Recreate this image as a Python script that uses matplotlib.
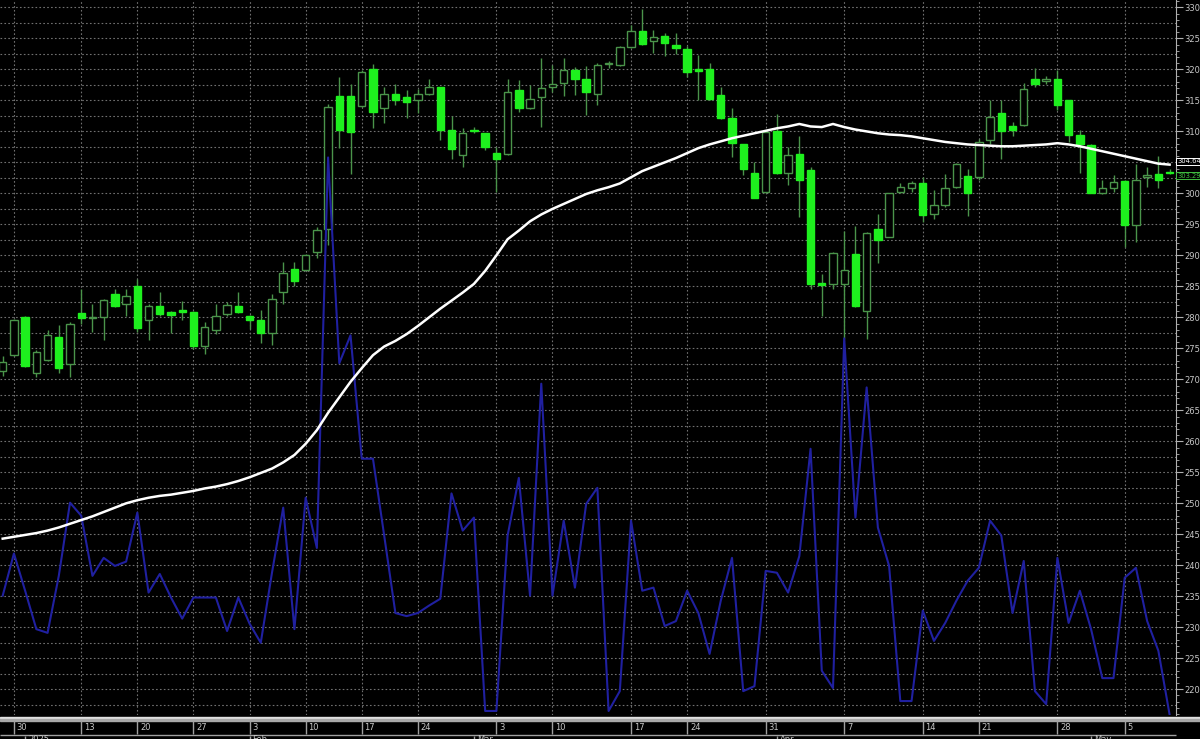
import numpy as np
import matplotlib.pyplot as plt
from matplotlib.ticker import MultipleLocator, FuncFormatter

# daily candles (open, high, low, close)
opens = [271.4, 274.0, 280.0, 271.0, 273.1, 276.8, 272.4, 280.7, 279.9, 280.1,
         283.8, 282.2, 285.1, 279.5, 281.9, 280.9, 281.2, 280.8, 275.3, 278.0,
         280.5, 281.9, 280.3, 279.6, 277.4, 284.1, 287.8, 287.7, 290.5, 294.3,
         315.7, 315.7, 314.1, 320.0, 313.7, 316.0, 315.6, 315.05, 316.0, 317.1,
         310.2, 306.2, 310.2, 309.7, 306.5, 306.4, 316.6, 313.7, 315.5, 317.1,
         317.8, 319.9, 318.4, 316.0, 320.9, 320.7, 323.6, 326.2, 324.6, 325.4,
         324.0, 323.3, 320.0, 320.1, 315.9, 312.1, 307.9, 303.3, 300.2, 310.1,
         303.3, 306.3, 303.7, 285.5, 285.4, 285.4, 290.2, 281.0, 294.2, 293.0,
         300.2, 300.9, 301.6, 296.6, 298.2, 301.0, 302.8, 302.7, 308.6, 313.0,
         310.8, 311.0, 318.5, 318.2, 318.4, 315.0, 309.5, 307.8, 300.0, 300.8,
         302.0, 294.9, 302.7, 303.1, 303.4]
highs = [273.8, 279.8, 280.3, 274.7, 277.9, 278.7, 279.2, 284.6, 282.2, 283.0,
         284.6, 284.6, 286.2, 282.2, 284.1, 281.0, 282.7, 281.0, 279.2, 282.2,
         282.4, 284.1, 280.4, 281.2, 283.8, 288.9, 288.9, 290.2, 294.6, 314.5,
         318.8, 317.7, 319.9, 320.9, 317.2, 317.7, 316.7, 316.8, 318.5, 317.2,
         312.5, 310.5, 310.7, 309.8, 307.5, 318.4, 318.3, 317.5, 321.9, 320.7,
         321.9, 320.4, 320.5, 321.0, 321.4, 323.7, 327.2, 329.7, 326.4, 325.8,
         325.9, 323.7, 322.3, 321.0, 317.1, 313.7, 308.0, 305.1, 310.0, 312.8,
         307.5, 309.2, 304.3, 287.0, 290.5, 294.0, 294.7, 293.8, 296.7, 300.1,
         301.7, 302.0, 302.7, 300.5, 303.2, 304.9, 304.0, 308.8, 315.1, 315.0,
         311.5, 317.8, 320.2, 318.9, 319.9, 315.1, 310.2, 307.9, 302.1, 302.9,
         302.1, 304.8, 304.3, 306.0, 303.9]
lows = [270.6, 273.8, 272.0, 270.3, 273.0, 271.0, 270.4, 278.9, 277.6, 276.4,
        281.6, 280.3, 277.6, 276.4, 280.3, 277.5, 279.5, 274.9, 274.1, 277.3,
        280.3, 280.7, 278.2, 275.8, 275.5, 282.2, 285.1, 287.6, 289.5, 291.6,
        307.4, 303.2, 314.0, 310.5, 311.3, 314.2, 312.2, 313.0, 315.9, 308.6,
        305.6, 304.3, 309.7, 307.0, 300.2, 306.2, 313.2, 313.6, 310.7, 316.4,
        315.7, 315.9, 312.6, 314.2, 320.2, 320.5, 323.5, 324.0, 322.6, 322.2,
        322.5, 318.7, 315.0, 315.0, 312.0, 305.9, 302.9, 299.2, 300.1, 303.2,
        301.3, 296.2, 284.6, 280.3, 284.5, 276.5, 281.7, 276.5, 288.7, 292.9,
        300.0, 300.2, 295.4, 295.9, 297.8, 300.8, 296.3, 302.1, 308.0, 305.6,
        309.2, 310.8, 317.2, 317.7, 313.5, 308.3, 303.3, 300.0, 299.9, 300.2,
        291.3, 292.2, 301.0, 300.8, 303.1]
closes = [272.8, 279.6, 272.2, 274.4, 277.1, 271.9, 278.9, 279.9, 280.1, 282.8,
          281.9, 283.5, 278.3, 281.9, 280.5, 280.4, 280.8, 275.3, 278.4, 280.3,
          282.0, 280.8, 279.6, 277.4, 283.0, 287.1, 285.8, 290.0, 294.1, 314.0,
          310.2, 309.9, 319.6, 313.2, 316.0, 315.1, 314.8, 316.0, 317.1, 310.3,
          307.2, 309.7, 310.0, 307.5, 305.6, 316.4, 313.7, 315.2, 317.0, 317.6,
          319.9, 318.4, 316.4, 320.7, 321.1, 323.6, 326.2, 324.1, 325.3, 324.2,
          323.4, 319.6, 319.8, 315.3, 312.1, 308.2, 304.0, 299.3, 309.9, 303.3,
          306.2, 302.1, 285.4, 285.2, 290.4, 287.7, 281.9, 293.6, 292.5, 300.0,
          301.0, 301.6, 296.5, 298.2, 300.9, 304.8, 300.1, 308.3, 312.4, 310.1,
          310.2, 316.8, 317.6, 318.4, 314.3, 309.4, 307.9, 300.1, 300.8, 301.8,
          294.9, 302.1, 302.9, 302.2, 303.29]

# white moving average line
ma_line = [244.3, 244.6, 244.9, 245.2, 245.6, 246.1, 246.7, 247.3, 247.9, 248.6,
           249.3, 250.0, 250.5, 250.9, 251.2, 251.4, 251.7, 252.0, 252.4, 252.7,
           253.1, 253.6, 254.2, 254.9, 255.6, 256.6, 257.8, 259.6, 261.8, 264.6,
           267.1, 269.6, 271.8, 273.9, 275.3, 276.2, 277.3, 278.6, 280.0, 281.4,
           282.7, 284.0, 285.4, 287.5, 290.0, 292.6, 294.0, 295.5, 296.6, 297.5,
           298.3, 299.1, 299.9, 300.5, 301.0, 301.6, 302.6, 303.6, 304.3, 305.0,
           305.7, 306.5, 307.3, 307.9, 308.4, 308.9, 309.3, 309.7, 310.1, 310.5,
           310.8, 311.2, 310.8, 310.7, 311.2, 310.7, 310.3, 310.0, 309.7, 309.5,
           309.4, 309.2, 308.9, 308.6, 308.3, 308.1, 307.9, 307.8, 307.7, 307.6,
           307.6, 307.7, 307.8, 307.9, 308.1, 307.9, 307.6, 307.2, 306.8, 306.4,
           306.0, 305.6, 305.2, 304.8, 304.64]

# blue indicator line (drawn on the price scale)
blue_line = [235.1, 241.9, 235.9, 229.7, 229.1, 238.3, 250.1, 248.0, 238.3, 241.2,
             239.9, 240.6, 248.5, 235.6, 238.6, 234.8, 231.4, 234.8, 234.8, 234.8,
             229.4, 234.8, 230.6, 227.5, 238.8, 249.3, 229.7, 250.9, 242.8, 305.8,
             272.6, 277.1, 257.2, 257.2, 244.8, 232.3, 231.8, 232.3, 233.5, 234.6,
             251.6, 245.6, 247.7, 216.5, 216.5, 244.8, 254.1, 235.1, 269.3, 235.1,
             247.2, 236.4, 249.9, 252.5, 216.5, 219.7, 247.2, 235.9, 236.4, 230.2,
             231.0, 235.9, 232.3, 225.7, 234.3, 241.2, 219.7, 220.5, 239.1, 238.8,
             235.6, 241.5, 258.8, 223.0, 220.2, 276.6, 247.7, 268.7, 246.1, 239.9,
             218.1, 218.1, 232.7, 227.8, 230.7, 234.3, 237.5, 239.6, 247.2, 244.8,
             232.3, 240.7, 219.7, 217.6, 241.2, 230.7, 235.9, 229.7, 221.8, 221.8,
             238.0, 239.6, 231.0, 226.2, 215.9]

week_ticks = [1, 7, 12, 17, 22, 27, 32, 37, 44, 49, 56, 61, 68, 75, 82, 87, 94, 100]
week_labels = ['30', '13', '20', '27', '3', '10', '17', '24', '3', '10',
               '17', '24', '31', '7', '14', '21', '28', '5']
month_ticks = [2, 22, 42, 69, 97]
month_labels = ['2025', 'Feb', 'Mar', 'Apr', 'May']

txt = '#c8c8c8'
grid_c = '#707070'
wick_c = '#4a944a'
fill_c = '#1ef01e'

fig = plt.figure(figsize=(12, 7.39), dpi=100, facecolor='black')
ax = fig.add_axes([0, 24 / 739, 1176 / 1200, 715 / 739])
ax.set_facecolor('black')

x = np.arange(len(closes))
o = np.array(opens)
c = np.array(closes)
up = c >= o

xmin, xmax = -0.24, 104.57
ax.set_xlim(xmin, xmax)
ax.set_ylim(215.85, 331.2)

# grid
for v in np.arange(217.5, 331, 2.5):
    ax.axhline(v, color=grid_c, lw=0.8, ls=(0, (1.5, 2)), zorder=0)
for t in week_ticks:
    ax.axvline(t, color=grid_c, lw=0.8, ls=(0, (1.5, 2)), zorder=0)

# candles
ax.vlines(x, lows, highs, color=wick_c, lw=1, zorder=2)
bottoms = np.minimum(o, c)
heights = np.abs(c - o)
ax.bar(x[up], heights[up], bottom=bottoms[up], width=0.66,
       facecolor='black', edgecolor=wick_c, lw=1, zorder=3)
ax.bar(x[~up], heights[~up], bottom=bottoms[~up], width=0.66,
       facecolor=fill_c, edgecolor=fill_c, lw=1, zorder=3)

ax.plot(x, blue_line, color='#2020a0', lw=1.5, zorder=4)
ax.plot(x, ma_line, color='white', lw=1.8, zorder=5)

# right price axis (the 305 label sits under the last-value boxes)
for s in ['top', 'left', 'bottom']:
    ax.spines[s].set_visible(False)
ax.spines['right'].set_color('#b0b0b0')
ax.yaxis.tick_right()
ax.yaxis.set_major_locator(MultipleLocator(5))
ax.yaxis.set_minor_locator(MultipleLocator(1))
ax.yaxis.set_major_formatter(FuncFormatter(lambda v, p: '' if round(v) == 305 else f'{v:.0f}'))
ax.tick_params(axis='y', which='major', length=5, color='#b0b0b0',
               labelcolor=txt, labelsize=6, pad=1)
ax.tick_params(axis='y', which='minor', length=2.5, color='#b0b0b0')
ax.set_xticks([])

ax.text(1.001, ma_line[-1] + 0.55, '304.64', transform=ax.get_yaxis_transform(),
        color='white', fontsize=4.9, va='center', ha='left',
        bbox=dict(boxstyle='square,pad=0.1', fc='black', ec='white', lw=0.7))
ax.text(1.001, closes[-1] - 0.45, '303.29', transform=ax.get_yaxis_transform(),
        color='#40c040', fontsize=4.9, va='center', ha='left',
        bbox=dict(boxstyle='square,pad=0.1', fc='black', ec='#40c040', lw=0.7))

# date strip
dax = fig.add_axes([0, 0, 1, 24 / 739])
dax.set_facecolor('black')
dax.set_xlim(xmin, xmin + (xmax - xmin) * 1200 / 1176)
dax.set_ylim(24, 0)
dax.axis('off')
dax.axhspan(1.5, 3, color='#e0e0e0')
dax.axhspan(4, 5.5, color='#a8a8a8')
dax.hlines(19.5, xmin, xmax, color='#a0a0a0', lw=1)
for t, lab in zip(week_ticks, week_labels):
    dax.vlines(t, 6, 19, color='#a0a0a0', lw=1)
    dax.text(t + 0.25, 13, lab, color=txt, fontsize=6, va='center', ha='left')
for t, lab in zip(month_ticks, month_labels):
    dax.vlines(t, 20.5, 24, color='#a0a0a0', lw=1)
    dax.text(t + 0.25, 20.3, lab, color=txt, fontsize=6, va='top', ha='left',
             clip_on=True)

fig.savefig('out.png', dpi=100, facecolor='black')
